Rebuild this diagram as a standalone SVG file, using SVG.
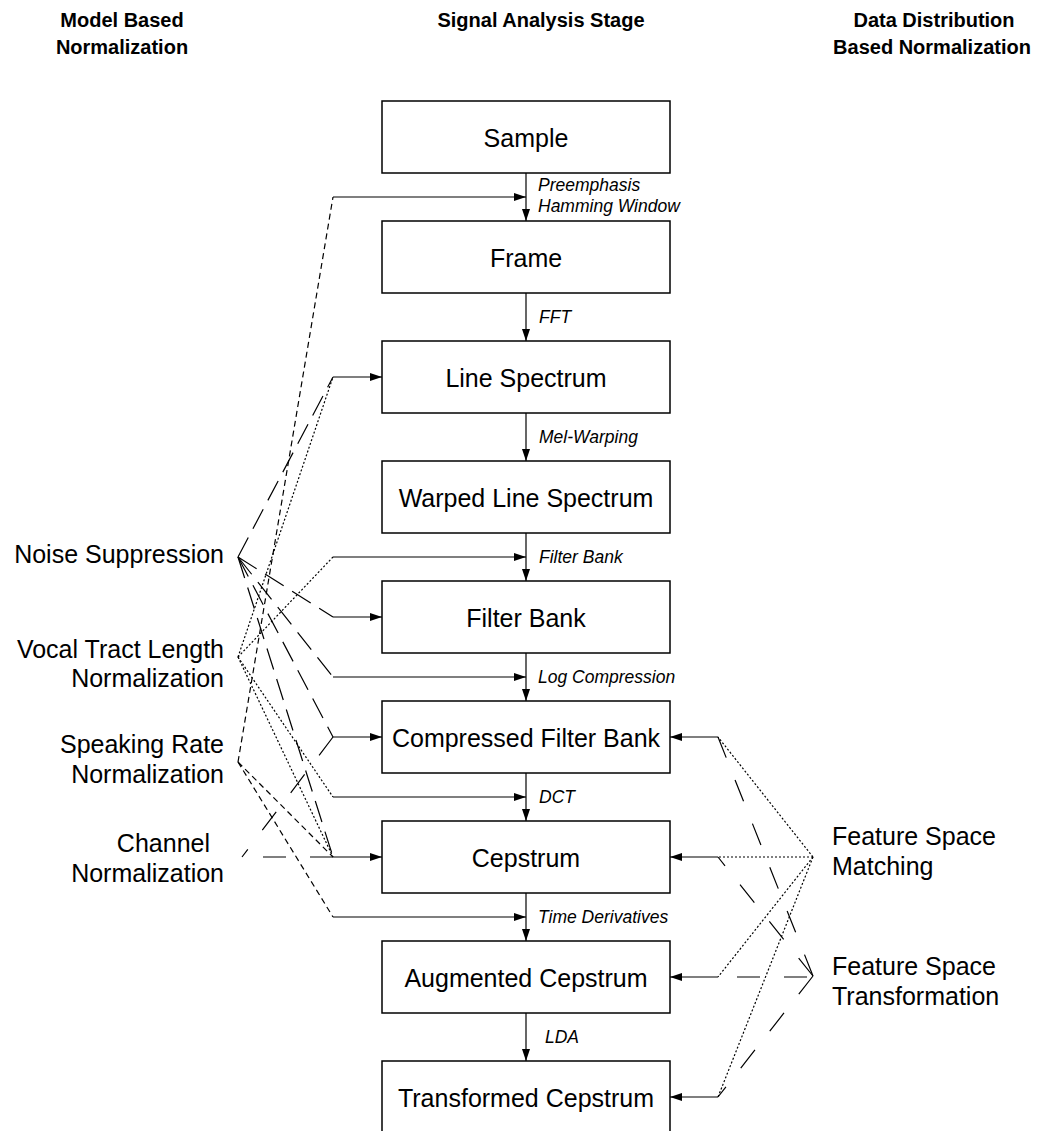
<svg xmlns="http://www.w3.org/2000/svg" width="1037" height="1131" viewBox="0 0 1037 1131">
<defs>
<marker id="ah" markerUnits="userSpaceOnUse" markerWidth="12" markerHeight="8" refX="12" refY="4" orient="auto">
<path d="M0,0 L12,4 L0,8 z" fill="#000"/>
</marker>
<style>
.box{fill:#fff;stroke:#000;stroke-width:1.5}
.bt{font-family:"Liberation Sans",Arial,sans-serif;font-size:25px;text-anchor:middle;fill:#000}
.lt{font-family:"Liberation Sans",Arial,sans-serif;font-size:25px;fill:#000}
.it{font-family:"Liberation Sans",Arial,sans-serif;font-size:17.5px;font-style:italic;fill:#000}
.hd{font-family:"Liberation Sans",Arial,sans-serif;font-size:20px;font-weight:bold;text-anchor:middle;fill:#000}
.ar{stroke:#000;stroke-width:1.2;fill:none;marker-end:url(#ah)}
.sd{stroke:#000;stroke-width:1.2;fill:none;stroke-dasharray:6 4}
.ld{stroke:#000;stroke-width:1.2;fill:none;stroke-dasharray:22 10}
.ld2{stroke:#000;stroke-width:1.2;fill:none;stroke-dasharray:23 24}
.dt{stroke:#000;stroke-width:1.2;fill:none;stroke-dasharray:2 2}
</style>
</defs>
<rect width="1037" height="1131" fill="#fff"/>
<g id="headings">
<text class="hd" x="122" y="27">Model Based</text>
<text class="hd" x="122" y="54">Normalization</text>
<text class="hd" x="541" y="27">Signal Analysis Stage</text>
<text class="hd" x="934" y="27">Data Distribution</text>
<text class="hd" x="932" y="54">Based Normalization</text>
</g>
<g id="n-sample"><rect class="box" x="382" y="101" width="288" height="72"/><text class="bt" x="526" y="147">Sample</text></g>
<g id="n-frame"><rect class="box" x="382" y="221" width="288" height="72"/><text class="bt" x="526" y="267">Frame</text></g>
<g id="n-linespec"><rect class="box" x="382" y="341" width="288" height="72"/><text class="bt" x="526" y="387">Line Spectrum</text></g>
<g id="n-warped"><rect class="box" x="382" y="461" width="288" height="72"/><text class="bt" x="526" y="507">Warped Line Spectrum</text></g>
<g id="n-filterbank"><rect class="box" x="382" y="581" width="288" height="72"/><text class="bt" x="526" y="627">Filter Bank</text></g>
<g id="n-compressed"><rect class="box" x="382" y="701" width="288" height="72"/><text class="bt" x="526" y="747">Compressed Filter Bank</text></g>
<g id="n-cepstrum"><rect class="box" x="382" y="821" width="288" height="72"/><text class="bt" x="526" y="867">Cepstrum</text></g>
<g id="n-augmented"><rect class="box" x="382" y="941" width="288" height="72"/><text class="bt" x="526" y="987">Augmented Cepstrum</text></g>
<g id="n-transformed"><rect class="box" x="382" y="1061" width="288" height="72"/><text class="bt" x="526" y="1107">Transformed Cepstrum</text></g>
<g id="n-noise"><text class="lt" x="224" y="563" text-anchor="end">Noise Suppression</text></g>
<g id="n-vtln"><text class="lt" x="224" y="658" text-anchor="end">Vocal Tract Length</text><text class="lt" x="224" y="687" text-anchor="end">Normalization</text></g>
<g id="n-srn"><text class="lt" x="224" y="753" text-anchor="end">Speaking Rate</text><text class="lt" x="224" y="783" text-anchor="end">Normalization</text></g>
<g id="n-channel"><text class="lt" x="210" y="852" text-anchor="end">Channel</text><text class="lt" x="224" y="882" text-anchor="end">Normalization</text></g>
<g id="n-fsm"><text class="lt" x="832" y="845">Feature Space</text><text class="lt" x="832" y="875">Matching</text></g>
<g id="n-fst"><text class="lt" x="832" y="975">Feature Space</text><text class="lt" x="832" y="1005">Transformation</text></g>
<g id="connectors">
<path class="ar" d="M526,173 V221"/>
<path class="ar" d="M526,293 V341"/>
<path class="ar" d="M526,413 V461"/>
<path class="ar" d="M526,533 V581"/>
<path class="ar" d="M526,653 V701"/>
<path class="ar" d="M526,773 V821"/>
<path class="ar" d="M526,893 V941"/>
<path class="ar" d="M526,1013 V1061"/>
<text class="it" x="538" y="191">Preemphasis</text>
<text class="it" x="538" y="212">Hamming Window</text>
<text class="it" x="539" y="323">FFT</text>
<text class="it" x="539" y="443">Mel-Warping</text>
<text class="it" x="539" y="563">Filter Bank</text>
<text class="it" x="538" y="683">Log Compression</text>
<text class="it" x="539" y="803">DCT</text>
<text class="it" x="538" y="923">Time Derivatives</text>
<text class="it" x="545" y="1043">LDA</text>
<path class="ar" d="M333,197 H526"/>
<path class="ar" d="M333,377 H382"/>
<path class="ar" d="M333,557 H526"/>
<path class="ar" d="M333,617 H382"/>
<path class="ar" d="M333,677 H526"/>
<path class="ar" d="M333,737 H382"/>
<path class="ar" d="M333,797 H526"/>
<path class="ar" d="M333,857 H382"/>
<path class="ar" d="M333,917 H526"/>
<path class="sd" d="M238,762 L333,197"/>
<path class="sd" d="M238,762 L333,857"/>
<path class="sd" d="M238,762 L333,917"/>
<path class="ld" d="M238,557 L333,377"/>
<path class="ld" d="M238,557 L333,617"/>
<path class="ld" d="M238,557 L333,677"/>
<path class="ld" d="M238,557 L333,737"/>
<path class="ld" d="M238,557 L333,857"/>
<path class="dt" d="M238,657 L333,377"/>
<path class="dt" d="M238,657 L333,557"/>
<path class="dt" d="M238,657 L333,797"/>
<path class="dt" d="M238,657 L333,857"/>
<path class="ld2" d="M333,857 L240,857"/>
<path class="ld2" d="M333,737 L242,857"/>
<path class="ar" d="M718,737 H670"/>
<path class="ar" d="M718,857 H670"/>
<path class="ar" d="M718,977 H670"/>
<path class="ar" d="M718,1097 H670"/>
<path class="dt" d="M813,857 L718,737"/>
<path class="dt" d="M813,857 L718,857"/>
<path class="dt" d="M813,857 L718,977"/>
<path class="dt" d="M813,857 L718,1097"/>
<path class="ld2" d="M813,976 L718,737"/>
<path class="ld2" d="M813,976 L718,857"/>
<path class="ld2" d="M807,977 L718,977"/>
<path class="ld2" d="M813,976 L718,1097"/>
</g>
</svg>
